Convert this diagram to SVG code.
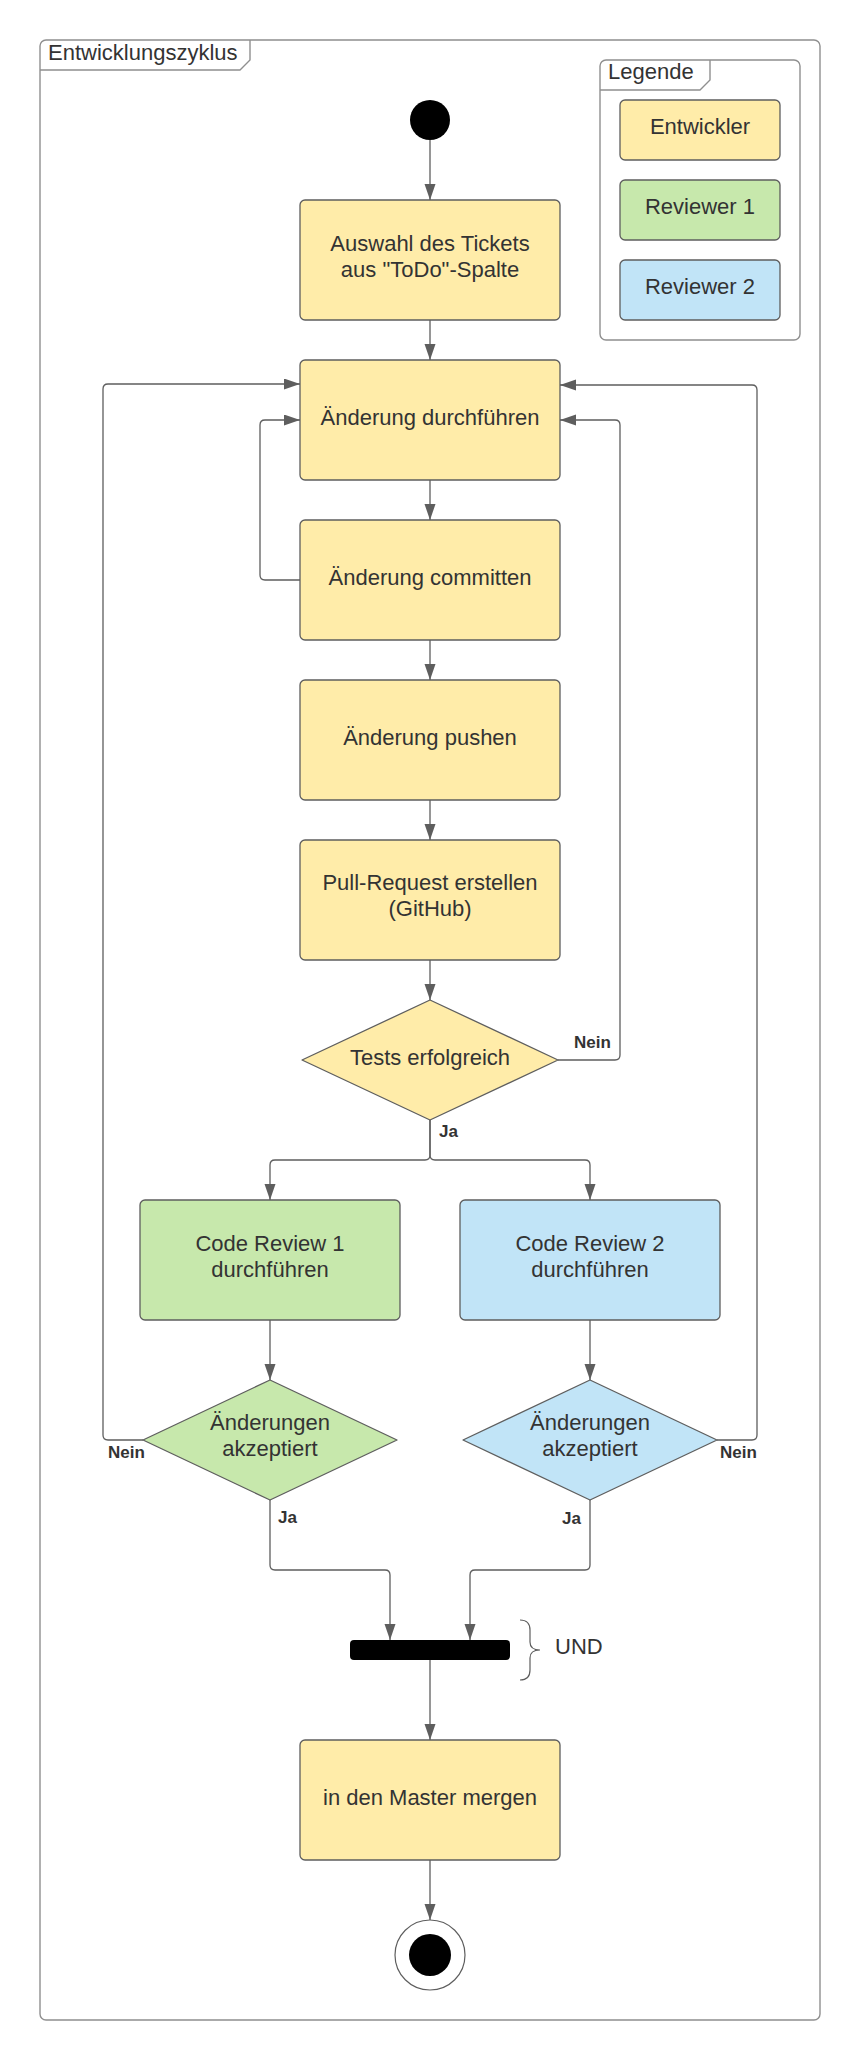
<svg xmlns="http://www.w3.org/2000/svg" width="860" height="2060" viewBox="0 0 860 2060">
<style>
.t{font-family:"Liberation Sans",Arial,sans-serif;font-size:22px;fill:#333333;text-anchor:middle}
.tl{font-family:"Liberation Sans",Arial,sans-serif;font-size:22px;fill:#333333}
.lb{font-family:"Liberation Sans",Arial,sans-serif;font-size:17px;font-weight:bold;fill:#333333}
.y{fill:#FFECA9;stroke:#5E5E5E;stroke-width:1.3}
.g{fill:#C7E8AC;stroke:#5E5E5E;stroke-width:1.3}
.b{fill:#C1E4F7;stroke:#5E5E5E;stroke-width:1.3}
.fr{fill:none;stroke:#8F8F8F;stroke-width:1.4}
.c{fill:none;stroke:#5E5E5E;stroke-width:1.3;marker-end:url(#ah)}
.cn{fill:none;stroke:#5E5E5E;stroke-width:1.3}
</style>
<defs>
<marker id="ah" markerUnits="userSpaceOnUse" markerWidth="16" markerHeight="12" refX="16" refY="5.5" orient="auto">
<path d="M0,0 L16,5.5 L0,11 z" fill="#5E5E5E"/>
</marker>
</defs>
<rect width="860" height="2060" fill="#FFFFFF"/>
<g id="frame">
<rect x="40" y="40" width="780" height="1980" rx="6" class="fr"/>
<path d="M40,70 H240 L250,60 V40" class="fr"/>
<text x="48" y="60" class="tl">Entwicklungszyklus</text>
</g>
<g id="legend">
<rect x="600" y="60" width="200" height="280" rx="6" class="fr"/>
<path d="M600,90 H700 L710,80 V60" class="fr"/>
<text x="608" y="79" class="tl">Legende</text>
<rect x="620" y="100" width="160" height="60" rx="5" class="y"/>
<text x="700" y="134" class="t">Entwickler</text>
<rect x="620" y="180" width="160" height="60" rx="5" class="g"/>
<text x="700" y="214" class="t">Reviewer 1</text>
<rect x="620" y="260" width="160" height="60" rx="5" class="b"/>
<text x="700" y="294" class="t">Reviewer 2</text>
</g>
<g id="connectors">
<path d="M430,140 V200" class="c"/>
<path d="M430,320 V360" class="c"/>
<path d="M430,480 V520" class="c"/>
<path d="M430,640 V680" class="c"/>
<path d="M430,800 V840" class="c"/>
<path d="M430,960 V1000" class="c"/>
<path d="M300,580 H265 Q260,580 260,575 V425 Q260,420 265,420 H300" class="c"/>
<path d="M558,1060 H615 Q620,1060 620,1055 V425 Q620,420 615,420 H560" class="c"/>
<path d="M430,1120 V1155 Q430,1160 425,1160 H275 Q270,1160 270,1165 V1200" class="c"/>
<path d="M430,1120 V1155 Q430,1160 435,1160 H585 Q590,1160 590,1165 V1200" class="c"/>
<path d="M270,1320 V1380" class="c"/>
<path d="M590,1320 V1380" class="c"/>
<path d="M143,1440 H108 Q103,1440 103,1435 V389 Q103,384 108,384 H300" class="c"/>
<path d="M717,1440 H752 Q757,1440 757,1435 V390 Q757,385 752,385 H560" class="c"/>
<path d="M270,1500 V1565 Q270,1570 275,1570 H385 Q390,1570 390,1575 V1640" class="c"/>
<path d="M590,1500 V1565 Q590,1570 585,1570 H475 Q470,1570 470,1575 V1640" class="c"/>
<path d="M430,1660 V1740" class="c"/>
<path d="M430,1860 V1920" class="c"/>
<text x="574" y="1048" class="lb">Nein</text>
<text x="439" y="1137" class="lb">Ja</text>
<text x="108" y="1458" class="lb">Nein</text>
<text x="720" y="1458" class="lb">Nein</text>
<text x="278" y="1523" class="lb">Ja</text>
<text x="562" y="1524" class="lb">Ja</text>
</g>
<g id="start"><circle cx="430" cy="120" r="20" fill="#000000"/></g>
<g id="n1"><rect x="300" y="200" width="260" height="120" rx="5" class="y"/>
<text x="430" y="251" class="t">Auswahl des Tickets</text><text x="430" y="277" class="t">aus "ToDo"-Spalte</text></g>
<g id="n2"><rect x="300" y="360" width="260" height="120" rx="5" class="y"/>
<text x="430" y="425" class="t">Änderung durchführen</text></g>
<g id="n3"><rect x="300" y="520" width="260" height="120" rx="5" class="y"/>
<text x="430" y="585" class="t">Änderung committen</text></g>
<g id="n4"><rect x="300" y="680" width="260" height="120" rx="5" class="y"/>
<text x="430" y="745" class="t">Änderung pushen</text></g>
<g id="n5"><rect x="300" y="840" width="260" height="120" rx="5" class="y"/>
<text x="430" y="890" class="t">Pull-Request erstellen</text><text x="430" y="916" class="t">(GitHub)</text></g>
<g id="d1"><path d="M430,1000 L558,1060 L430,1120 L302,1060 z" class="y" stroke-linejoin="round"/>
<text x="430" y="1065" class="t">Tests erfolgreich</text></g>
<g id="r1"><rect x="140" y="1200" width="260" height="120" rx="5" class="g"/>
<text x="270" y="1251" class="t">Code Review 1</text><text x="270" y="1277" class="t">durchführen</text></g>
<g id="r2"><rect x="460" y="1200" width="260" height="120" rx="5" class="b"/>
<text x="590" y="1251" class="t">Code Review 2</text><text x="590" y="1277" class="t">durchführen</text></g>
<g id="d2"><path d="M270,1380 L397,1440 L270,1500 L143,1440 z" class="g" stroke-linejoin="round"/>
<text x="270" y="1430" class="t">Änderungen</text><text x="270" y="1456" class="t">akzeptiert</text></g>
<g id="d3"><path d="M590,1380 L717,1440 L590,1500 L463,1440 z" class="b" stroke-linejoin="round"/>
<text x="590" y="1430" class="t">Änderungen</text><text x="590" y="1456" class="t">akzeptiert</text></g>
<g id="join"><rect x="350" y="1640" width="160" height="20" rx="4" fill="#000000"/>
<path d="M520,1620 Q530,1620 530,1630 V1642 Q530,1650 540,1650 Q530,1650 530,1658 V1670 Q530,1680 520,1680" fill="none" stroke="#5E5E5E" stroke-width="1.2"/>
<text x="555" y="1654" class="tl">UND</text></g>
<g id="n6"><rect x="300" y="1740" width="260" height="120" rx="5" class="y"/>
<text x="430" y="1805" class="t">in den Master mergen</text></g>
<g id="end"><circle cx="430" cy="1955" r="35" fill="#FFFFFF" stroke="#5E5E5E" stroke-width="1.2"/>
<circle cx="430" cy="1955" r="21" fill="#000000"/></g>
</svg>
